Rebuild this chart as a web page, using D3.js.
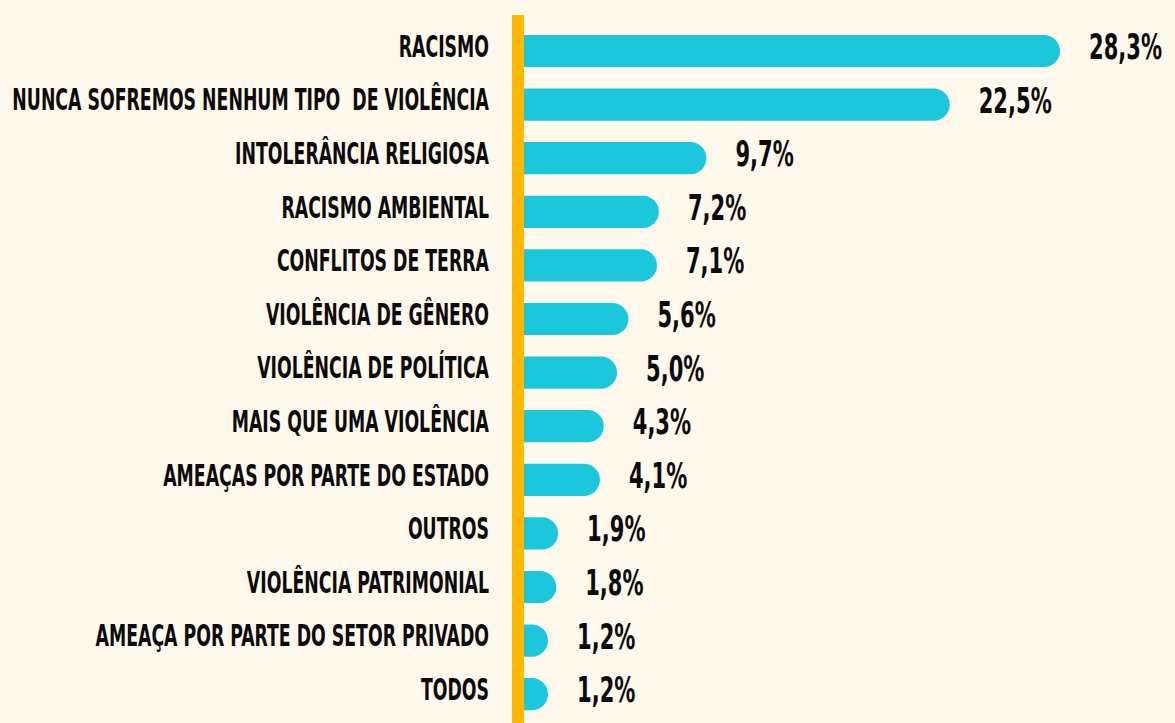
<!DOCTYPE html>
<html>
<head>
<meta charset="utf-8">
<script src="https://d3js.org/d3.v7.min.js"></script>
<style>
  html, body { margin: 0; padding: 0; background: #fff8ec; }
  text { font-family: "Liberation Sans Narrow", "DejaVu Sans Condensed", "Roboto", sans-serif; font-weight: bold; fill: #0b0b0b; white-space: pre; }
</style>
</head>
<body>
<script>
var categories = [
  "RACISMO",
  "NUNCA SOFREMOS NENHUM TIPO  DE VIOLÊNCIA",
  "INTOLERÂNCIA RELIGIOSA",
  "RACISMO AMBIENTAL",
  "CONFLITOS DE TERRA",
  "VIOLÊNCIA DE GÊNERO",
  "VIOLÊNCIA DE POLÍTICA",
  "MAIS QUE UMA VIOLÊNCIA",
  "AMEAÇAS POR PARTE DO ESTADO",
  "OUTROS",
  "VIOLÊNCIA PATRIMONIAL",
  "AMEAÇA POR PARTE DO SETOR PRIVADO",
  "TODOS"
];
var values = [28.3, 22.5, 9.7, 7.2, 7.1, 5.6, 5.0, 4.3, 4.1, 1.9, 1.8, 1.2, 1.2];
var valueLabels = ["28,3%", "22,5%", "9,7%", "7,2%", "7,1%", "5,6%", "5,0%", "4,3%", "4,1%", "1,9%", "1,8%", "1,2%", "1,2%"];

var width = 1175, height = 723;
var axisX = 518;

var svg = d3.select("body").append("svg")
    .attr("width", width)
    .attr("height", height)
    .style("display", "block");

var x = d3.scaleLinear().domain([0, 28.3]).range([522, 1060]);
var y = d3.scaleBand().domain(categories).range([24.2, 721]).paddingInner(0.4).paddingOuter(0.2);

var data = categories.map(function(c, i) { return {cat: c, value: values[i], label: valueLabels[i]}; });

// bars: flat left edge, rounded right end
function barPath(d) {
  var x0 = axisX, x1 = Math.max(x(d.value), axisX + 30), y0 = y(d.cat), h = y.bandwidth(), r = h / 2;
  return "M" + x0 + "," + y0 + "H" + (x1 - r) +
    "A" + r + "," + r + " 0 0 1 " + (x1 - r) + "," + (y0 + h) +
    "H" + x0 + "Z";
}

svg.append("g").selectAll("path")
  .data(data)
  .enter().append("path")
    .attr("d", barPath)
    .attr("fill", "#1cc7db");

svg.append("rect")
  .attr("x", 512).attr("y", 15)
  .attr("width", 12).attr("height", height - 15)
  .attr("fill", "#ffb900");

// text sits a bit above the bar centre in the original
var lift = 5;

// category labels, squeezed to look condensed like the original
var labelG = svg.append("g");
var labels = labelG.selectAll("text")
  .data(data)
  .enter().append("text")
    .attr("x", 0)
    .attr("y", function(d) { return y(d.cat) + y.bandwidth() / 2 - lift; })
    .attr("dy", "0.36em")
    .attr("text-anchor", "end")
    .style("font-size", "30px")
    .text(function(d) { return d.cat; });

var longest = d3.max(labels.nodes(), function(n) { return n.getComputedTextLength(); });
var sx = 477 / longest;
labelG.attr("transform", "translate(489,0) scale(" + sx + ",1)");

var vals = svg.append("g").selectAll("g")
  .data(data)
  .enter().append("g");
var valText = vals.append("text")
    .attr("dy", "0.36em")
    .style("font-size", "36px")
    .text(function(d) { return d.label; });
var vsx = 73 / valText.node().getComputedTextLength();
vals.attr("transform", function(d) {
  return "translate(" + (Math.max(x(d.value), axisX + 30) + 29) + "," + (y(d.cat) + y.bandwidth() / 2 - lift) + ") scale(" + vsx + ",1)";
});
</script>
</body>
</html>
